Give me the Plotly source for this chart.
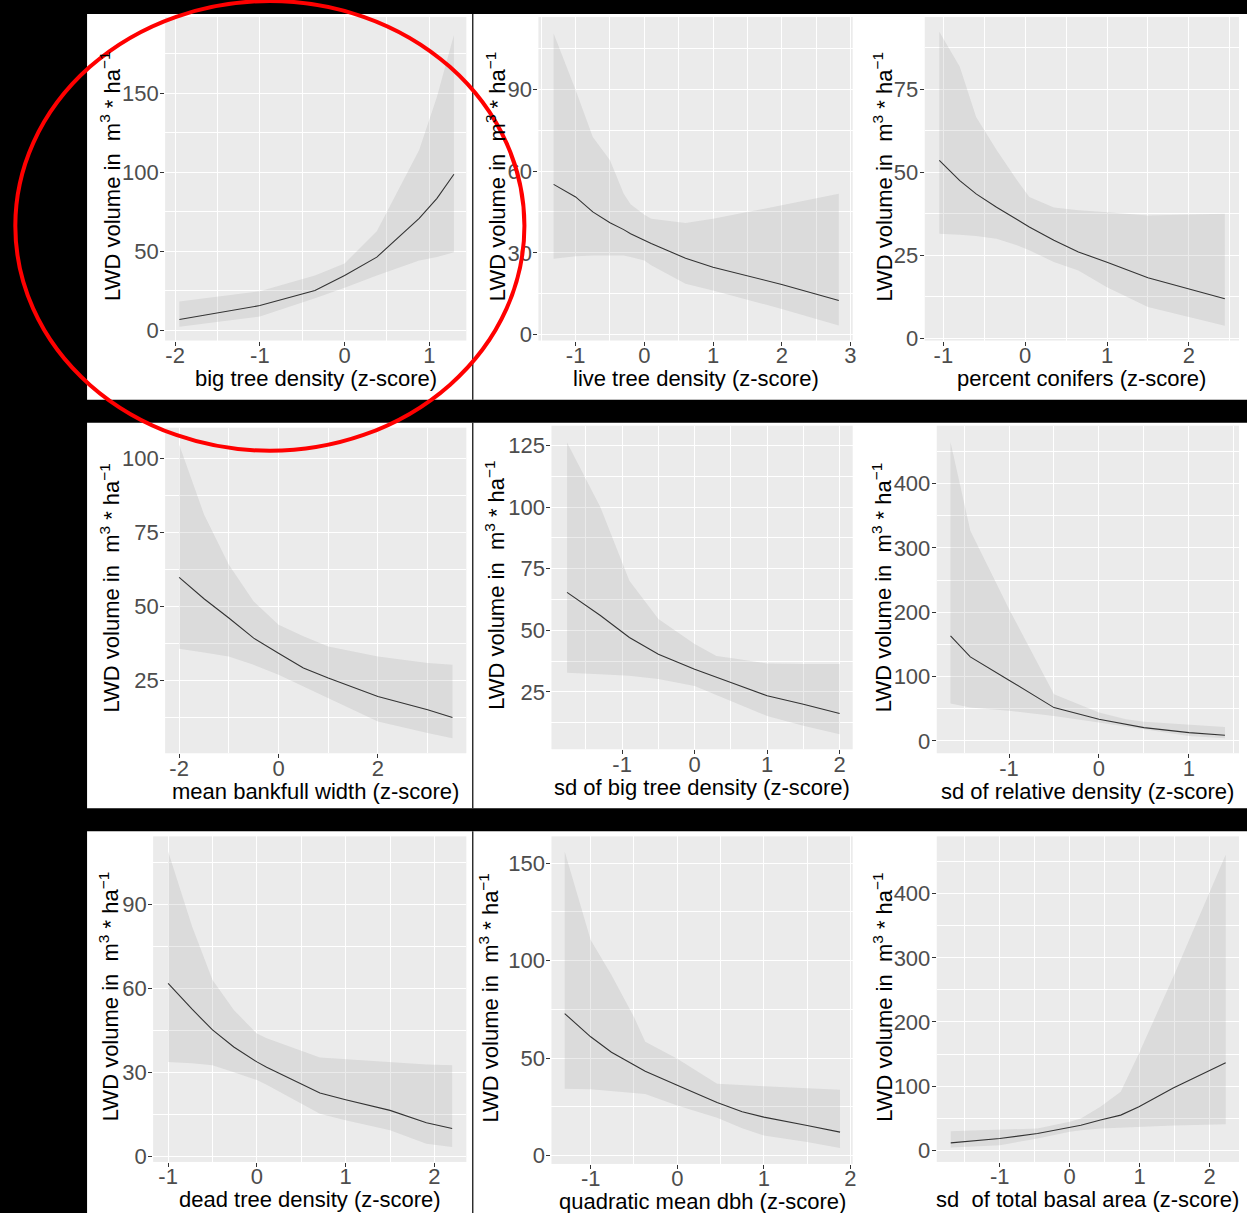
import plotly.graph_objects as go

# reference picture geometry (all pixel positions below are measured in it)
W, H = 1247, 1213
# size of the rendered page area
FW, FH = 1252, 1225

# ---------------- data ----------------
# 1. big tree density
bigtree_x   = [-1.95, -1.0, -0.35, 0.0, 0.38, 0.88, 1.09, 1.29]
bigtree_fit = [7.0, 15.8, 25.3, 34.8, 46.4, 70.9, 83.5, 98.7]
bigtree_lo  = [2.5, 8.9, 20.4, 27.0, 34.8, 44.3, 46.4, 49.5]
bigtree_hi  = [18.4, 24.9, 34.8, 42.4, 62.7, 114.0, 147.7, 186.7]

# 2. live tree density
live_x   = [-1.32, -1.0, -0.75, -0.5, -0.3, -0.2, 0.0, 0.1, 0.6, 1.0, 2.0, 2.83]
live_fit = [55.1, 50.5, 45.0, 41.0, 38.5, 37.0, 34.6, 33.4, 28.0, 24.7, 18.4, 12.5]
live_lo  = [27.8, 28.7, 29.0, 29.0, 29.0, 28.5, 27.2, 25.4, 18.6, 16.2, 9.4, 3.3]
live_hi  = [110.5, 89.7, 72.5, 64.0, 51.7, 47.8, 44.0, 42.5, 40.9, 42.5, 47.4, 51.7]

# 3. percent conifers
conif_x   = [-1.05, -0.8, -0.6, -0.35, -0.1, 0.05, 0.35, 0.65, 1.0, 1.5, 2.44]
conif_fit = [53.6, 47.5, 43.5, 39.5, 35.8, 33.5, 29.5, 26.0, 22.9, 18.2, 11.9]
conif_lo  = [31.5, 31.2, 30.8, 30.0, 28.0, 26.5, 23.0, 20.4, 15.4, 9.4, 3.8]
conif_hi  = [92.4, 81.8, 66.7, 56.7, 47.6, 42.6, 39.4, 38.6, 38.0, 37.0, 37.5]

# 4. mean bankfull width
bank_x   = [-2.0, -1.5, -1.0, -0.5, 0.0, 0.5, 1.0, 2.0, 3.0, 3.5]
bank_fit = [59.9, 52.7, 46.2, 39.4, 34.3, 29.3, 25.9, 19.7, 15.2, 12.6]
bank_lo  = [35.8, 34.5, 33.2, 30.4, 27.0, 23.1, 19.1, 11.2, 7.3, 5.6]
bank_hi  = [104.8, 81.2, 64.2, 51.8, 43.9, 40.0, 36.6, 33.2, 31.0, 30.4]

# 5. sd of big tree density
sdbig_x   = [-1.76, -1.3, -0.9, -0.5, 0.0, 0.3, 0.5, 1.0, 1.5, 2.0]
sdbig_fit = [65.4, 56.0, 47.1, 40.3, 34.2, 30.8, 28.8, 23.4, 20.0, 16.2]
sdbig_lo  = [32.8, 32.2, 31.5, 30.2, 27.4, 23.8, 21.3, 15.2, 11.2, 7.8]
sdbig_hi  = [126.3, 100.0, 70.1, 54.6, 44.4, 39.6, 38.8, 36.5, 36.3, 36.3]

# 6. sd of relative density
sdrel_x   = [-1.65, -1.43, -1.0, -0.5, 0.0, 0.3, 0.5, 1.0, 1.4]
sdrel_fit = [163.3, 130.6, 94.4, 51.8, 33.7, 25.5, 20.7, 12.9, 8.8]
sdrel_lo  = [58.0, 51.8, 47.0, 38.9, 28.5, 22.0, 18.2, 7.8, 4.2]
sdrel_hi  = [464.0, 326.6, 205.0, 72.6, 44.0, 33.7, 30.0, 25.0, 21.8]

# 7. dead tree density
dead_x   = [-1.0, -0.73, -0.5, -0.26, 0.0, 0.11, 0.71, 1.0, 1.5, 1.91, 2.2]
dead_fit = [61.7, 52.5, 45.1, 39.0, 33.7, 31.8, 22.6, 20.2, 16.4, 12.0, 9.9]
dead_lo  = [33.7, 33.2, 32.5, 30.0, 27.2, 25.5, 15.2, 12.9, 9.3, 4.5, 3.3]
dead_hi  = [108.8, 82.0, 62.9, 52.2, 43.8, 42.1, 35.3, 34.7, 33.8, 32.8, 32.5]

# 8. quadratic mean dbh
qmd_x   = [-1.3, -1.0, -0.76, -0.5, -0.37, 0.0, 0.46, 0.75, 1.0, 1.5, 1.88]
qmd_fit = [72.8, 60.9, 53.0, 46.3, 43.2, 36.0, 27.2, 22.5, 19.7, 15.4, 12.0]
qmd_lo  = [34.3, 34.0, 33.0, 32.0, 31.5, 25.7, 19.4, 14.0, 10.3, 6.9, 3.9]
qmd_hi  = [156.0, 110.6, 92.6, 71.1, 58.3, 49.7, 36.8, 36.0, 35.5, 34.5, 33.8]

# 9. sd of total basal area
sdba_x   = [-1.7, -1.0, -0.46, 0.0, 0.16, 0.44, 0.73, 0.99, 1.48, 2.23]
sdba_fit = [11.4, 18.2, 26.0, 34.8, 39.0, 47.0, 54.7, 67.7, 97.0, 136.4]
sdba_lo  = [4.0, 7.8, 18.1, 28.6, 31.0, 33.8, 35.5, 36.4, 38.5, 40.6]
sdba_hi  = [29.7, 31.5, 33.8, 44.2, 49.4, 67.7, 91.0, 151.0, 270.0, 461.0]

x_titles = ["big tree density (z-score)", "live tree density (z-score)",
            "percent conifers (z-score)", "mean bankfull width (z-score)",
            "sd of big tree density (z-score)", "sd of relative density (z-score)",
            "dead tree density (z-score)", "quadratic mean dbh (z-score)",
            "sd  of total basal area (z-score)"]
y_title = "LWD volume in\u00a0 m<sup>3</sup> * ha<sup>\u22121</sup>"

x_tick_vals = [[-2, -1, 0, 1], [-1, 0, 1, 2, 3], [-1, 0, 1, 2], [-2, 0, 2],
               [-1, 0, 1, 2], [-1, 0, 1], [-1, 0, 1, 2], [-1, 0, 1, 2], [-1, 0, 1, 2]]
y_tick_vals = [[0, 50, 100, 150], [0, 30, 60, 90], [0, 25, 50, 75], [25, 50, 75, 100],
               [25, 50, 75, 100, 125], [0, 100, 200, 300, 400], [0, 30, 60, 90],
               [0, 50, 100, 150], [0, 100, 200, 300, 400]]

series = [
    (bigtree_x, bigtree_fit, bigtree_lo, bigtree_hi),
    (live_x, live_fit, live_lo, live_hi),
    (conif_x, conif_fit, conif_lo, conif_hi),
    (bank_x, bank_fit, bank_lo, bank_hi),
    (sdbig_x, sdbig_fit, sdbig_lo, sdbig_hi),
    (sdrel_x, sdrel_fit, sdrel_lo, sdrel_hi),
    (dead_x, dead_fit, dead_lo, dead_hi),
    (qmd_x, qmd_fit, qmd_lo, qmd_hi),
    (sdba_x, sdba_fit, sdba_lo, sdba_hi),
]

# ---------------- layout geometry (pixels of the reference) ----------------
boxes = [(165, 17, 466, 340), (538, 17, 852, 340), (924, 17, 1238, 340),
         (165, 427, 466, 752), (551, 425, 852, 748), (936, 425, 1238, 752),
         (153, 835, 466, 1160), (551, 835, 852, 1162), (936, 835, 1238, 1160)]
x_ranges = [(-2.118, 1.437), (-1.541, 3.032), (-1.228, 2.613),
            (-2.282, 3.78), (-1.975, 2.18), (-1.803, 1.556),
            (-1.169, 2.36), (-1.453, 2.026), (-1.9, 2.42)]
y_ranges = [(-6.3, 198), (-2.2, 116.5), (-0.7, 96.8),
            (0.5, 110.5), (1.7, 133.1), (-19.1, 489.7),
            (-2.0, 114.2), (-4.3, 163.7), (-18.3, 489.5)]
x_minor_step = [0.5, 0.5, 0.5, 1, 0.5, 0.5, 0.5, 0.5, 0.5]
y_minor_step = [25, 15, 12.5, 12.5, 12.5, 50, 15, 25, 50]
ytitle_x = [110, 495, 882, 110, 495, 882, 109, 489, 882]


def minor_vals(rng, step, majors):
    lo, hi = rng
    out = []
    k = int(lo // step) - 1
    while k * step <= hi + step:
        v = round(k * step, 6)
        if lo <= v <= hi and all(abs(v - m) > 1e-9 for m in majors):
            out.append(v)
        k += 1
    return out


def tick_text(vals):
    return [str(v) for v in vals]


fig = go.Figure()
layout = dict(
    width=FW, height=FH, autosize=False,
    margin=dict(l=0, r=0, t=0, b=0, pad=0),
    paper_bgcolor="white", plot_bgcolor="#EBEBEB", showlegend=False,
    font=dict(family="Liberation Sans, Arial, sans-serif", size=22, color="#4D4D4D"),
)
annotations = []
shapes = []

for i, (xs, fit, lo, hi) in enumerate(series):
    k = i + 1
    sfx = "" if k == 1 else str(k)
    x0, y0, x1, y1 = boxes[i]
    common = dict(ticks="outside", ticklen=4, tickwidth=1.1, tickcolor="#333333",
                  showgrid=True, gridcolor="white", gridwidth=1.3, zeroline=False,
                  showline=False, fixedrange=True, tickmode="array",
                  tickfont=dict(size=22, color="#4D4D4D"))
    layout["xaxis" + sfx] = dict(
        common, domain=[x0 / W, x1 / W], anchor="y" + sfx, range=list(x_ranges[i]),
        tickvals=x_tick_vals[i], ticktext=tick_text(x_tick_vals[i]),
        ticklabelstandoff=-9,
        minor=dict(tickmode="array",
                   tickvals=minor_vals(x_ranges[i], x_minor_step[i], x_tick_vals[i]),
                   showgrid=True, gridcolor="white", gridwidth=0.6, ticks=""))
    layout["yaxis" + sfx] = dict(
        common, domain=[1 - y1 / H, 1 - y0 / H], anchor="x" + sfx, range=list(y_ranges[i]),
        tickvals=y_tick_vals[i], ticktext=tick_text(y_tick_vals[i]),
        ticklabelstandoff=-3,
        minor=dict(tickmode="array",
                   tickvals=minor_vals(y_ranges[i], y_minor_step[i], y_tick_vals[i]),
                   showgrid=True, gridcolor="white", gridwidth=0.6, ticks=""))

    fig.add_trace(go.Scatter(
        x=list(xs) + list(xs)[::-1], y=list(hi) + list(lo)[::-1],
        fill="toself", fillcolor="rgba(153,153,153,0.2)", mode="lines",
        line=dict(width=0), hoverinfo="skip", xaxis="x" + sfx, yaxis="y" + sfx))
    fig.add_trace(go.Scatter(
        x=xs, y=fit, mode="lines", line=dict(color="#333333", width=1.1),
        hoverinfo="skip", xaxis="x" + sfx, yaxis="y" + sfx))

    # x-axis title
    annotations.append(dict(
        text=x_titles[i], xref="paper", yref="paper",
        x=(x0 + x1) / 2 / W, y=1 - (y1 + 38) / H, xanchor="center", yanchor="middle",
        showarrow=False, font=dict(size=22, color="black")))
    # y-axis title
    annotations.append(dict(
        text=y_title, xref="paper", yref="paper", textangle=-90,
        x=ytitle_x[i] / W, y=1 - ((y0 + y1) / 2 - 2) / H, xanchor="center", yanchor="middle",
        showarrow=False, font=dict(size=22, color="black")))


def black_rect(px0, py0, px1, py1):
    return dict(type="rect", xref="paper", yref="paper", layer="above",
                x0=px0 / W, x1=px1 / W, y0=1 - py1 / H, y1=1 - py0 / H,
                fillcolor="black", line=dict(width=0))


# black frame / gaps between the white panels
shapes.append(black_rect(0, 0, 87, H))
shapes.append(black_rect(0, 0, W, 14))
shapes.append(black_rect(0, 399, W, 422))
shapes.append(black_rect(0, 807, W, 830))
for (ya, yb) in [(14, 399), (422, 807), (830, H)]:
    shapes.append(black_rect(471.8, ya, 473.0, yb))

# red ellipse highlighting the first panel
shapes.append(dict(type="circle", xref="paper", yref="paper", layer="above",
                   x0=15.3 / W, x1=524 / W, y0=1 - 450 / H, y1=1 - 1 / H,
                   line=dict(color="#FF0000", width=4), fillcolor="rgba(0,0,0,0)"))

layout["annotations"] = annotations
layout["shapes"] = shapes
fig.update_layout(**layout)

page_fix = (
    "var s=document.createElement('style');"
    "s.innerHTML='html,body{margin:0;padding:0;overflow:hidden;}';"
    "document.head.appendChild(s);"
    "var d=document.getElementById('{plot_id}');"
    "d.style.position='fixed';d.style.left='0px';d.style.top='0px';"
)
fig.write_html("out.html", config={"displayModeBar": False}, post_script=page_fix)
